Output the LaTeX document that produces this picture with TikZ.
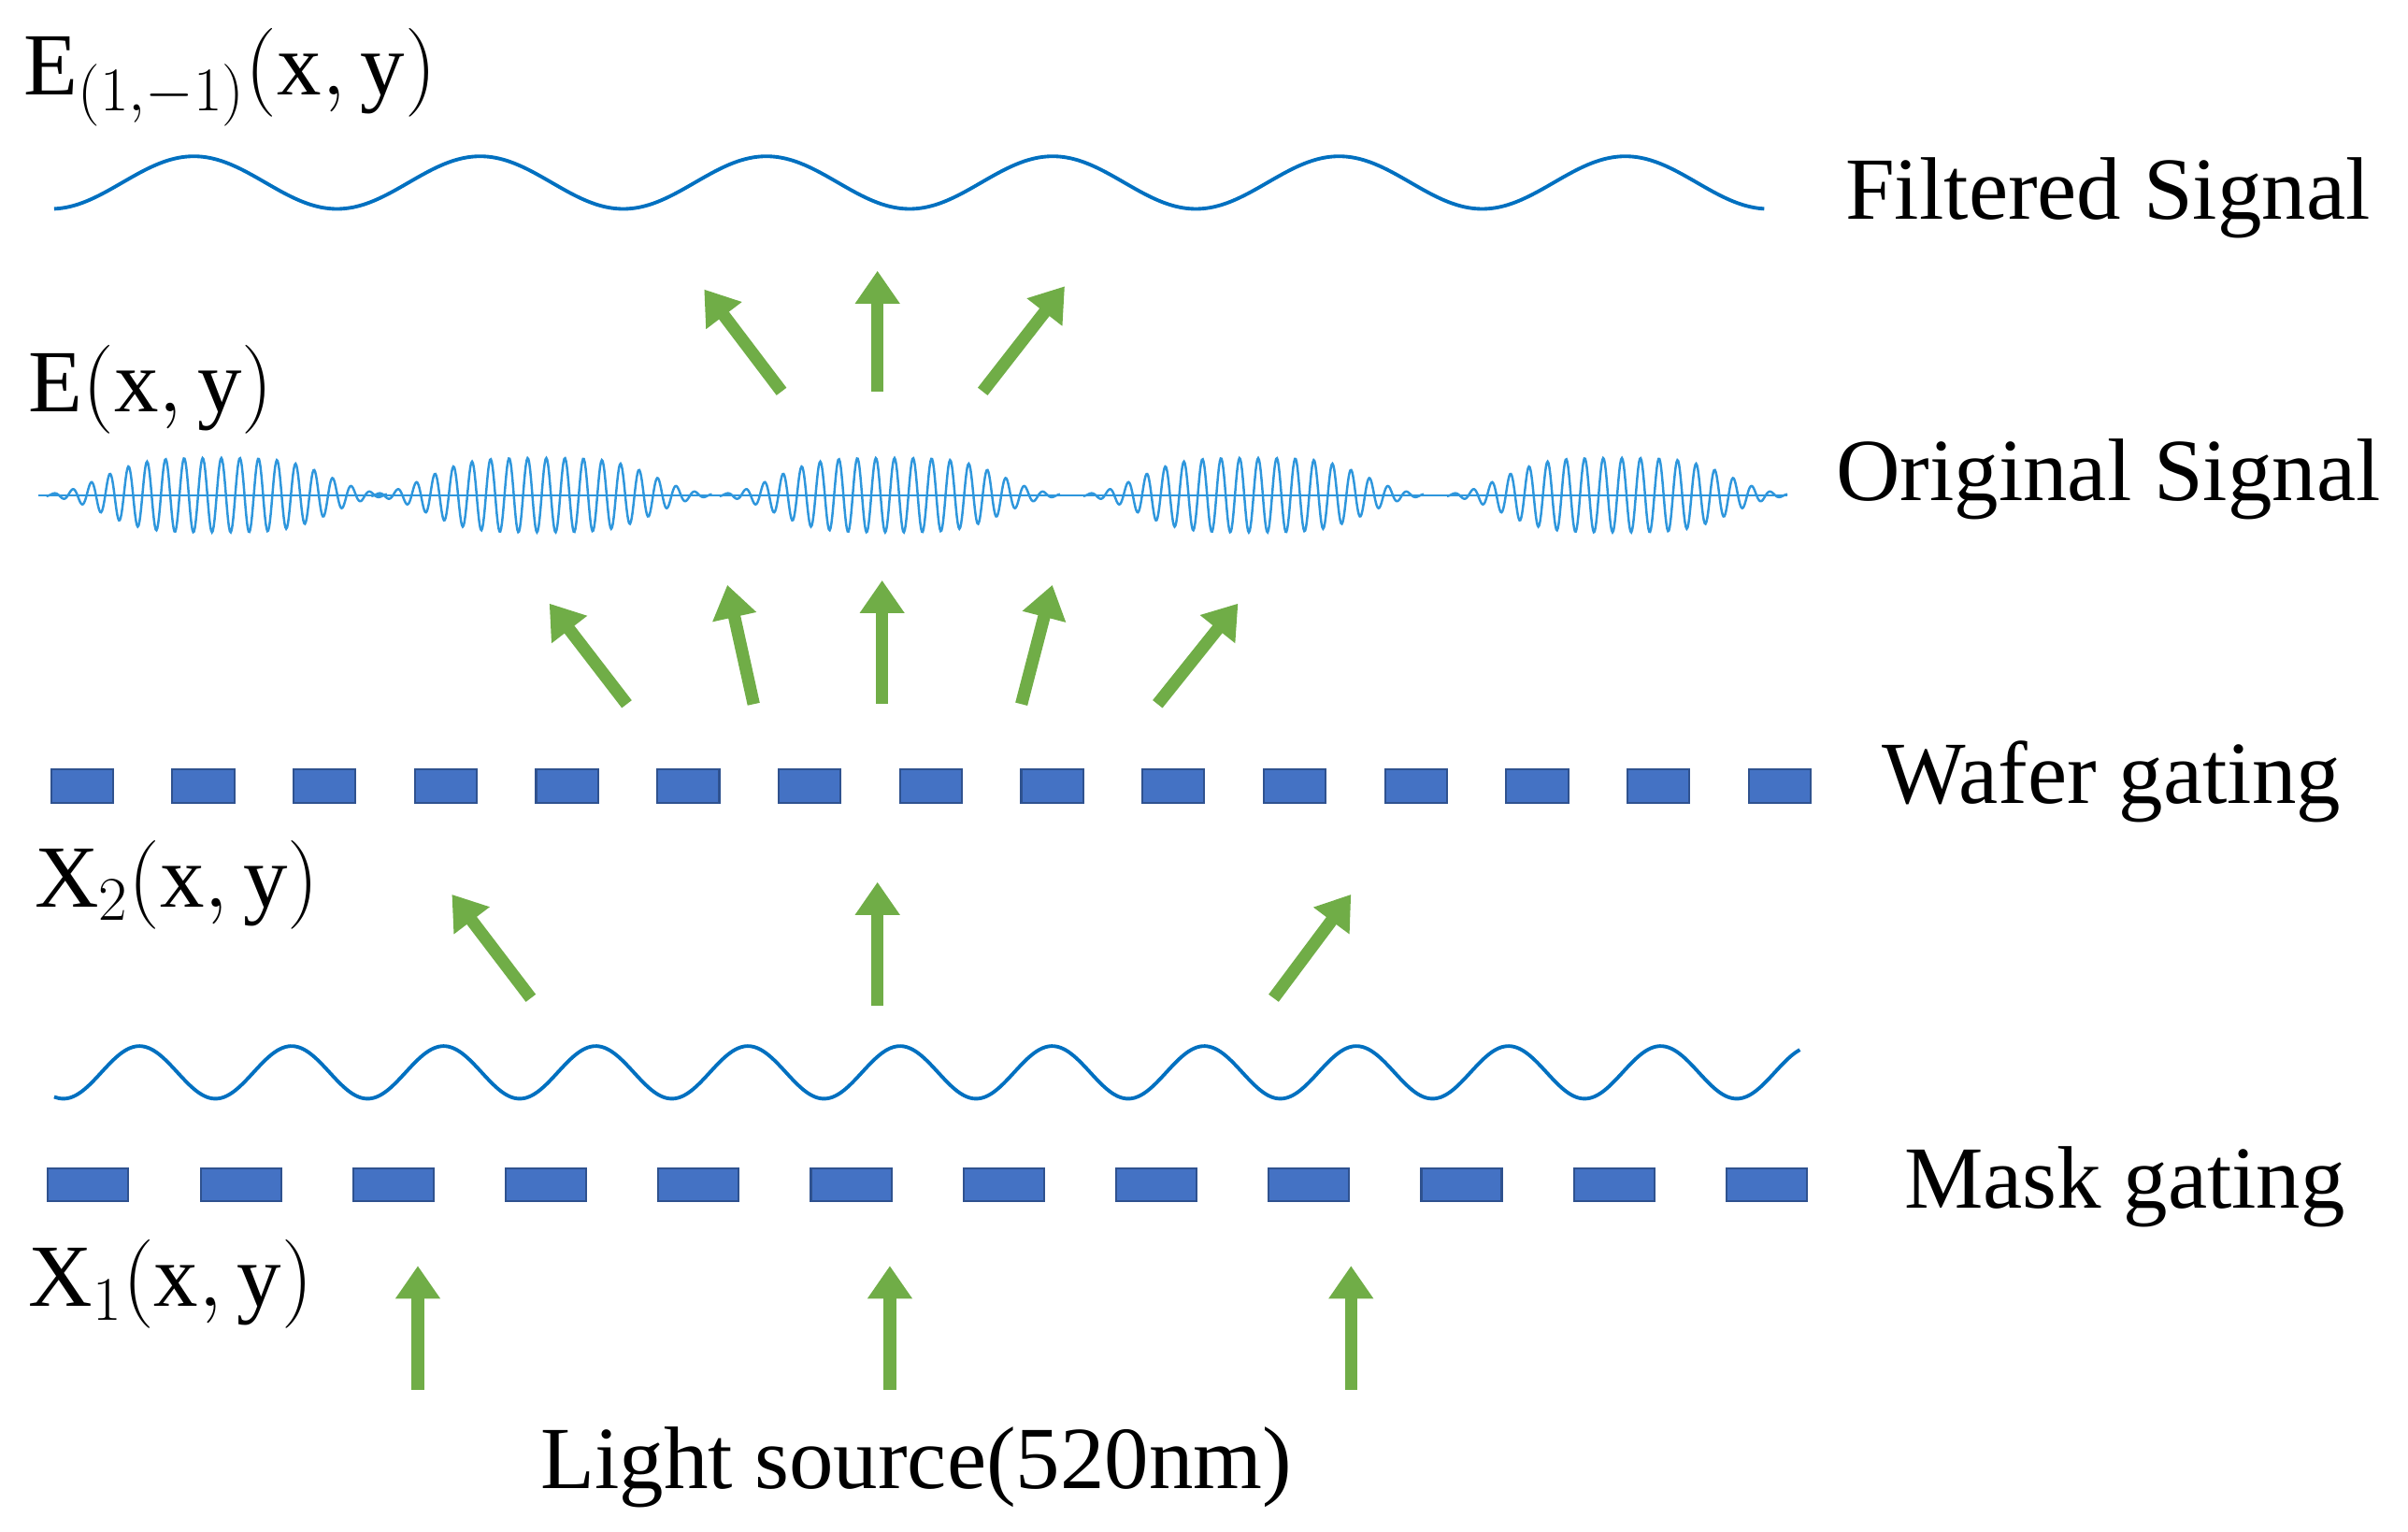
\documentclass[tikz,border=0pt]{standalone}
\usepackage{fix-cm}
\usepackage{fontspec}
\setmainfont{Liberation Serif}
\usetikzlibrary{arrows.meta}

\begin{document}
\begin{tikzpicture}[
  x=0.016556cm, y=-0.016556cm,
  label/.style={anchor=west, inner sep=0pt, font=\fontsize{27}{32}\selectfont},
  wave/.style={draw={rgb,255:red,0;green,112;blue,192}, line width=1.1pt},
  packet/.style={draw={rgb,255:red,46;green,150;blue,220}, line width=0.7pt},
  bar/.style={fill={rgb,255:red,68;green,114;blue,196}, draw={rgb,255:red,47;green,82;blue,143}, line width=0.6pt},
  arrow/.style={-{Triangle[width=13pt,length=10pt]}, line width=3.8pt,
    draw={rgb,255:red,112;green,173;blue,71}}
]
\useasboundingbox (0,0) rectangle (1556,990);

% =====================================================
% FILTERED SIGNAL
% =====================================================

\draw[wave] plot[domain=35:1140, samples=300, smooth] (\x, {118-17*sin((\x-79)/185*360)});
\node[label] (efilt) at (15,50) {$\mathrm{E}_{(1,-1)}(\mathrm{x},\mathrm{y})$};
\node[label] (filtered) at (1192,128) {Filtered Signal};

\foreach \i/\xs/\ys/\xe/\ye in {1/505/253/455/187, 2/567/253/567/175, 3/635/253/688/185} {
  \coordinate (ts\i) at (\xs,\ys);
  \coordinate (te\i) at (\xe,\ye);
  \draw[arrow] (ts\i) -- (te\i);
}

% =====================================================
% ORIGINAL SIGNAL
% =====================================================

\node[label] (eorig) at (18,252) {$\mathrm{E}(\mathrm{x},\mathrm{y})$};
\draw[packet] (25,320) -- (1155,320);
\foreach \c in {140,350,575,810,1045} {
  \draw[packet] plot[domain=\c-110:\c+110, samples=400] (\x, {320-24*exp(-((\x-\c)/80)^4)*sin((\x-\c)*30)});
}
\node[label] (original) at (1186,310) {Original Signal};

\foreach \i/\xs/\ys/\xe/\ye in {1/405/455/355/390, 2/487/455/470/378, 3/570/455/570/375,
                                4/660/455/680/378, 5/748/455/800/390} {
  \coordinate (ms\i) at (\xs,\ys);
  \coordinate (me\i) at (\xe,\ye);
  \draw[arrow] (ms\i) -- (me\i);
}

% =====================================================
% WAFER GATING
% =====================================================

\foreach \i in {0,...,14} {
  \fill[bar] ({53+78.36*\i-20},497) rectangle ({53+78.36*\i+20},519);
}
\node[label] (wafer) at (1216,505) {Wafer gating};
\node[label] (xtwo) at (22,572) {$\mathrm{X}_2(\mathrm{x},\mathrm{y})$};

\foreach \i/\xs/\ys/\xe/\ye in {1/343/645/292/578, 2/567/650/567/570, 3/823/645/873/578} {
  \coordinate (ws\i) at (\xs,\ys);
  \coordinate (we\i) at (\xe,\ye);
  \draw[arrow] (ws\i) -- (we\i);
}

% =====================================================
% MASK GATING
% =====================================================

\draw[wave] plot[domain=35:1163, samples=400, smooth] (\x, {693-17*sin((\x-65.5)/98.3*360)});
\foreach \i in {0,...,11} {
  \fill[bar] ({57+98.6*\i-26},755) rectangle ({57+98.6*\i+26},776);
}
\node[label] (mask) at (1230,767) {Mask gating};
\node[label] (xone) at (18,830) {$\mathrm{X}_1(\mathrm{x},\mathrm{y})$};

\foreach \i/\xx in {1/270, 2/575, 3/873} {
  \coordinate (ls\i) at (\xx,898);
  \coordinate (le\i) at (\xx,818);
  \draw[arrow] (ls\i) -- (le\i);
}
\node[label, anchor=center] (source) at (592,948) {Light source(520nm)};

\end{tikzpicture}
\end{document}
